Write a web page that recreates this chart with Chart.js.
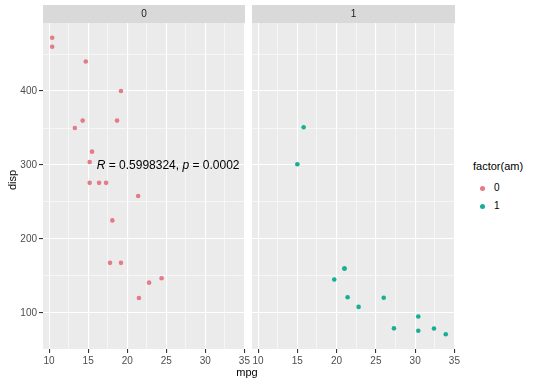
<!DOCTYPE html>
<html>
<head>
<meta charset="utf-8">
<script src="https://cdn.jsdelivr.net/npm/chart.js@4.4.0/dist/chart.umd.min.js"></script>
<style>
  html, body { margin: 0; padding: 0; background: #fff; }
  #wrap { position: relative; width: 540px; height: 386px; font-family: "Liberation Sans", Arial, sans-serif; }
  .panel { position: absolute; top: 0; height: 386px; }
  .lbl { position: absolute; white-space: nowrap; color: #000; }
  .key { position: absolute; width: 5px; height: 5px; border-radius: 50%; }
</style>
</head>
<body>
<div id="wrap">
  <div class="panel" style="left:0;width:252px"><canvas id="panel0"></canvas></div>
  <div class="panel" style="left:246px;width:216px"><canvas id="panel1"></canvas></div>
  <div class="lbl" style="left:0;top:174px;width:24px;font-size:11px;transform:rotate(-90deg);text-align:center">disp</div>
  <div class="lbl" style="left:200px;top:366px;width:94px;font-size:11px;text-align:center">mpg</div>
  <div id="legend"></div>
</div>
<script>
// mtcars, separado por am
const facetLevels = ['0', '1'];
const mpgAuto = [21.4, 18.7, 18.1, 14.3, 24.4, 22.8, 19.2, 17.8, 16.4, 17.3, 15.2, 10.4, 10.4, 14.7, 21.5, 15.5, 15.2, 13.3, 19.2];
const dispAuto = [258, 360, 225, 360, 146.7, 140.8, 167.6, 167.6, 275.8, 275.8, 275.8, 472, 460, 440, 120.1, 318, 304, 350, 400];
const mpgManual = [21.0, 21.0, 22.8, 32.4, 30.4, 33.9, 27.3, 26.0, 30.4, 15.8, 19.7, 15.0, 21.4];
const dispManual = [160, 160, 108, 78.7, 75.7, 71.1, 79, 120.3, 95.1, 351, 145, 301, 121];
const corLabel = [['R', true], [' = 0.5998324, ', false], ['p', true], [' = 0.0002', false]];
const corPos = [16.1, 298.6];

const colores = ['#E57A88', '#16AF93'];
const FONT = '"Liberation Sans", Arial, sans-serif';

function isMultiple(v, step) {
  return Math.abs(v / step - Math.round(v / step)) < 1e-6;
}

// fondo gris del panel + franja del facet
const panelBg = {
  id: 'panelBg',
  beforeDraw(chart, args, opts) {
    const { ctx, chartArea: a } = chart;
    ctx.save();
    ctx.fillStyle = '#EBEBEB';
    ctx.fillRect(a.left, a.top, a.right - a.left, a.bottom - a.top);
    ctx.fillStyle = '#D9D9D9';
    ctx.fillRect(a.left, a.top - 18, a.right - a.left, 18);
    ctx.fillStyle = '#1A1A1A';
    ctx.font = '10px ' + FONT;
    ctx.textAlign = 'center';
    ctx.textBaseline = 'middle';
    ctx.fillText(opts.strip, (a.left + a.right) / 2, a.top - 8.5);
    ctx.restore();
  }
};

// etiqueta de correlacion (solo panel 0)
const corText = {
  id: 'corText',
  afterDatasetsDraw(chart, args, opts) {
    if (!opts.show) return;
    const { ctx, scales } = chart;
    let x = scales.x.getPixelForValue(corPos[0]);
    const y = scales.y.getPixelForValue(corPos[1]);
    ctx.save();
    ctx.fillStyle = '#000';
    ctx.textAlign = 'left';
    ctx.textBaseline = 'middle';
    corLabel.forEach(([t, italic]) => {
      ctx.font = (italic ? 'italic ' : '') + '12px ' + FONT;
      ctx.fillText(t, x, y);
      x += ctx.measureText(t).width;
    });
    ctx.restore();
  }
};

function crearPanel(id, xs, ys, idx, conEjeY) {
  const ctx = document.getElementById(id);
  const tickFont = { family: FONT, size: 10 };
  return new Chart(ctx, {
    type: 'scatter',
    data: {
      datasets: [{
        data: xs.map((v, i) => ({ x: v, y: ys[i] })),
        backgroundColor: colores[idx],
        borderColor: colores[idx],
        borderWidth: 0,
        pointRadius: 2.3
      }]
    },
    options: {
      responsive: false,
      animation: false,
      layout: { padding: { top: 23, right: conEjeY ? 6 : 7, left: conEjeY ? 0 : 6, bottom: 0 } },
      scales: {
        x: {
          type: 'linear',
          min: 9.225,
          max: 35.075,
          border: { display: false },
          grid: {
            color: '#FFFFFF',
            lineWidth: c => isMultiple(c.tick.value, 5) ? 1.1 : 0.55,
            tickColor: c => isMultiple(c.tick.value, 5) ? '#333333' : 'rgba(0,0,0,0)',
            tickLength: 4
          },
          ticks: {
            stepSize: 2.5,
            includeBounds: false,
            autoSkip: false,
            maxRotation: 0,
            padding: 2,
            color: '#4D4D4D',
            font: tickFont,
            callback: v => isMultiple(v, 5) ? String(v) : ''
          },
          afterFit: s => { s.height = 37; }
        },
        y: {
          type: 'linear',
          min: 51.055,
          max: 492.045,
          border: { display: false },
          grid: {
            color: '#FFFFFF',
            lineWidth: c => isMultiple(c.tick.value, 100) ? 1.1 : 0.55,
            tickColor: c => (conEjeY && isMultiple(c.tick.value, 100)) ? '#333333' : 'rgba(0,0,0,0)',
            tickLength: conEjeY ? 4 : 0
          },
          ticks: {
            display: conEjeY,
            stepSize: 50,
            includeBounds: false,
            padding: 2,
            color: '#4D4D4D',
            font: tickFont,
            callback: v => isMultiple(v, 100) ? String(v) : ''
          },
          afterFit: s => { s.width = conEjeY ? 43 : 0; }
        }
      },
      plugins: {
        legend: { display: false },
        tooltip: { enabled: false },
        panelBg: { strip: facetLevels[idx] },
        corText: { show: idx === 0 }
      }
    },
    plugins: [panelBg, corText]
  });
}

document.getElementById('panel0').width = 252;
document.getElementById('panel0').height = 386;
document.getElementById('panel1').width = 216;
document.getElementById('panel1').height = 386;

crearPanel('panel0', mpgAuto, dispAuto, 0, true);
crearPanel('panel1', mpgManual, dispManual, 1, false);

// leyenda
const legend = document.getElementById('legend');
let html = '<div class="lbl" style="left:473px;top:160px;font-size:11px">factor(am)</div>';
facetLevels.forEach((lvl, i) => {
  const cy = 188 + i * 18;
  html += `<div class="key" style="left:480px;top:${cy - 2.5}px;background:${colores[i]}"></div>`;
  html += `<div class="lbl" style="left:494px;top:${cy - 6}px;font-size:10px">${lvl}</div>`;
});
legend.innerHTML = html;
</script>
</body>
</html>
